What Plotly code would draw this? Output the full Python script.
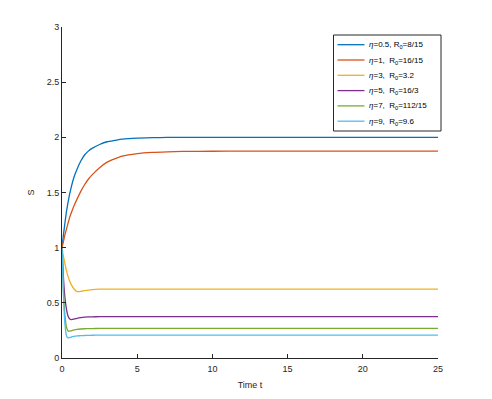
import plotly.graph_objects as go

t = [0, 0.1, 0.2, 0.3, 0.4, 0.5, 0.6, 0.8, 1.0, 1.25, 1.5, 1.75, 2.0, 2.5, 3.0, 3.5, 4, 5, 6, 7, 8, 10, 12, 15, 20, 25]

s_eta05 = [1, 1.12, 1.23, 1.33, 1.41, 1.48, 1.54, 1.64, 1.71, 1.785, 1.84, 1.875, 1.90, 1.935, 1.96, 1.972, 1.983, 1.993, 1.997, 1.999, 2.0, 2.0, 2.0, 2.0, 2.0, 2.0]
s_eta1 = [1, 1.06, 1.12, 1.17, 1.22, 1.27, 1.31, 1.38, 1.44, 1.51, 1.57, 1.62, 1.66, 1.725, 1.775, 1.805, 1.83, 1.853, 1.864, 1.869, 1.872, 1.874, 1.875, 1.875, 1.875, 1.875]
s_eta3 = [1, 0.92, 0.85, 0.79, 0.74, 0.70, 0.67, 0.625, 0.602, 0.603, 0.61, 0.616, 0.62, 0.624, 0.625, 0.625, 0.625, 0.625, 0.625, 0.625, 0.625, 0.625, 0.625, 0.625, 0.625, 0.625]
s_eta5 = [1, 0.72, 0.54, 0.44, 0.38, 0.355, 0.348, 0.352, 0.36, 0.366, 0.37, 0.372, 0.373, 0.375, 0.375, 0.375, 0.375, 0.375, 0.375, 0.375, 0.375, 0.375, 0.375, 0.375, 0.375, 0.375]
s_eta7 = [1, 0.6, 0.38, 0.28, 0.245, 0.243, 0.247, 0.255, 0.26, 0.263, 0.265, 0.266, 0.267, 0.268, 0.268, 0.268, 0.268, 0.268, 0.268, 0.268, 0.268, 0.268, 0.268, 0.268, 0.268, 0.268]
s_eta9 = [1, 0.55, 0.30, 0.20, 0.182, 0.185, 0.19, 0.196, 0.20, 0.202, 0.204, 0.205, 0.206, 0.207, 0.207, 0.207, 0.207, 0.207, 0.207, 0.207, 0.207, 0.207, 0.207, 0.207, 0.207, 0.207]

labels = [
    "<i>η</i>=0.5, R<sub>0</sub>=8/15",
    "<i>η</i>=1,  R<sub>0</sub>=16/15",
    "<i>η</i>=3,  R<sub>0</sub>=3.2",
    "<i>η</i>=5,  R<sub>0</sub>=16/3",
    "<i>η</i>=7,  R<sub>0</sub>=112/15",
    "<i>η</i>=9,  R<sub>0</sub>=9.6",
]
series = [s_eta05, s_eta1, s_eta3, s_eta5, s_eta7, s_eta9]
colors = ["#0072BD", "#D95319", "#EDB120", "#7E2F8E", "#77AC30", "#4DBEEE"]

x_ticks = [0, 5, 10, 15, 20, 25]
y_ticks = [0, 0.5, 1, 1.5, 2, 2.5, 3]

W, H = 484, 391
ML, MR, MT, MB = 54, 54, 19, 41
PW, PH = W - ML - MR, H - MT - MB
PAGE_OFF = 8  # browser body margin


def px_x(px):
    return (px - PAGE_OFF - ML) / PW


def px_y(py):
    return 1 - (py - PAGE_OFF - MT) / PH


fig = go.Figure()
for name, ys, c in zip(labels, series, colors):
    fig.add_trace(go.Scatter(x=t, y=ys, mode="lines", name=name, showlegend=False,
                             line=dict(color=c, width=1.3, shape="spline", smoothing=0.5)))

# custom legend (MATLAB-like compact layout)
shapes = [dict(type="rect", xref="paper", yref="paper",
               x0=px_x(333.5), x1=px_x(441), y0=px_y(131), y1=px_y(35),
               line=dict(color="#262626", width=1), fillcolor="white", layer="above")]
annotations = []
row_y = 44.7
row_step = 15.3
for i, (name, c) in enumerate(zip(labels, colors)):
    yy = row_y + i * row_step
    shapes.append(dict(type="line", xref="paper", yref="paper",
                       x0=px_x(337.5), x1=px_x(364.5), y0=px_y(yy), y1=px_y(yy),
                       line=dict(color=c, width=1.3), layer="above"))
    annotations.append(dict(xref="paper", yref="paper", x=px_x(366.5), y=px_y(yy + 0.5),
                            xanchor="left", yanchor="middle", showarrow=False, text=name,
                            font=dict(family="Liberation Sans, Arial", size=8, color="#000")))

axis_common = dict(showgrid=False, zeroline=False, showline=True, linecolor="#262626",
                   linewidth=1, ticks="inside", ticklen=4, tickcolor="#262626",
                   tickfont=dict(family="Liberation Sans, Arial", size=9, color="#262626"))

fig.update_layout(
    width=W, height=H,
    margin=dict(l=ML, r=MR, t=MT, b=MB),
    paper_bgcolor="white", plot_bgcolor="white",
    font=dict(family="Liberation Sans, DejaVu Sans, Arial", size=9, color="#262626"),
    xaxis=dict(range=[0, 25], tickvals=x_ticks, ticklabelstandoff=2,
               title=dict(text="Time t", standoff=8, font=dict(size=9)), **axis_common),
    yaxis=dict(range=[0, 3], tickvals=y_ticks, ticktext=[str(v) for v in y_ticks],
               title=dict(text="S", standoff=10, font=dict(size=9)), **axis_common),
    shapes=shapes,
    annotations=annotations,
    showlegend=False,
)

fig.write_html("out.html")
